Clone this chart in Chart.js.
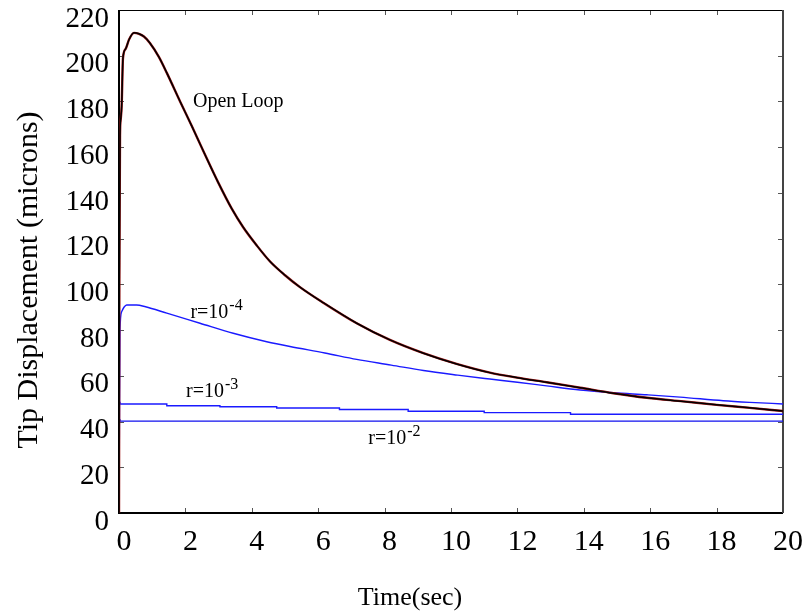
<!DOCTYPE html>
<html>
<head>
<meta charset="utf-8">
<script src="https://cdn.jsdelivr.net/npm/chart.js@4/dist/chart.umd.min.js"></script>
<style>
html,body{margin:0;padding:0;background:#fff;}
#c{display:block;}
</style>
</head>
<body>
<canvas id="c" width="806" height="615"></canvas>
<script>
// ---- data ----
const xTitle = "Time(sec)";
const yTitle = "Tip Displacement (microns)";
const xTicks = [0, 2, 4, 6, 8, 10, 12, 14, 16, 18, 20];
const yTicks = [0, 20, 40, 60, 80, 100, 120, 140, 160, 180, 200, 220];

const openLoopT = [0, 0.01, 0.03, 0.05, 0.08, 0.12, 0.2, 0.3, 0.45, 0.6, 0.75, 0.93, 1.2, 1.44, 1.84, 2.2, 2.55, 2.99, 3.4, 3.74, 4.15, 4.55, 5.0, 5.45, 6.15, 7.16, 8.16, 9.17, 10.17, 11.17, 12.0, 12.88, 13.89, 14.89, 15.9, 17.0, 18.0, 19.0, 20.0];
const openLoopV = [0, 100, 165, 172, 178, 199, 203, 207, 210, 209.6, 208.4, 205.6, 199.5, 192.5, 180, 169, 158, 144.5, 133, 125, 117, 110, 104, 98.8, 92, 83, 75.7, 69.9, 65.2, 61.4, 59.2, 57.2, 54.8, 52.4, 50.4, 48.8, 47.3, 46.0, 44.6];

const r4T = [0, 0.03, 0.08, 0.15, 0.23, 0.53, 0.8, 1.44, 2.44, 3.44, 4.45, 5.15, 6.2, 7.16, 8.2, 9.17, 10.2, 11.17, 12.0, 12.88, 13.89, 14.89, 15.9, 16.9, 18.2, 19.0, 20.0];
const r4V = [0, 80, 88, 90, 91, 91, 90.2, 87.4, 83, 78.6, 74.9, 72.8, 70, 67.2, 64.7, 62.3, 60.3, 58.6, 57.2, 55.6, 53.8, 52.6, 51.7, 50.7, 49.1, 48.4, 47.7];

const r3T = [0, 0.03, 1.44, 3.04, 4.75, 6.64, 8.71, 11.0, 13.6, 16.5, 20.0];
const r3V = [0, 48.4, 47.7, 46.9, 46.5, 45.9, 45.3, 44.5, 43.9, 43.2, 43.2];

const r2T = [0, 0.03, 2.0, 20.0];
const r2V = [0, 40.7, 40.2, 40.2];

const curveLabels = [
  {text: "Open Loop", sup: "", t: 2.23, v: 177.5},
  {text: "r=10", sup: "-4", t: 2.15, v: 85.1},
  {text: "r=10", sup: "-3", t: 2.02, v: 50.8},
  {text: "r=10", sup: "-2", t: 7.51, v: 30.0}
];

const pts = (T, V) => T.map((t, i) => ({x: t, y: V[i]}));
const SERIF = "'Liberation Serif', 'Times New Roman', serif";

const framePlugin = {
  id: 'frame',
  beforeDatasetsDraw(chart) {
    const {ctx, chartArea: a, scales: {x, y}} = chart;
    ctx.save();
    ctx.strokeStyle = '#555';
    ctx.lineWidth = 1;
    ctx.beginPath();
    xTicks.forEach(v => {
      const px = Math.round(x.getPixelForValue(v)) + 0.5;
      ctx.moveTo(px, a.bottom); ctx.lineTo(px, a.bottom - 5);
      ctx.moveTo(px, a.top); ctx.lineTo(px, a.top + 5);
    });
    yTicks.forEach(v => {
      const py = Math.round(y.getPixelForValue(v)) + 0.5;
      ctx.moveTo(a.left, py); ctx.lineTo(a.left + 5, py);
      ctx.moveTo(a.right, py); ctx.lineTo(a.right - 5, py);
    });
    ctx.stroke();
    ctx.strokeStyle = '#000';
    ctx.lineWidth = 2;
    ctx.beginPath();
    ctx.moveTo(a.left, a.top); ctx.lineTo(a.left, a.bottom); ctx.lineTo(a.right, a.bottom);
    ctx.stroke();
    ctx.lineWidth = 1.2;
    ctx.beginPath();
    ctx.moveTo(a.left, a.top + 0.5); ctx.lineTo(a.right, a.top + 0.5);
    ctx.stroke();
    ctx.strokeStyle = '#444';
    ctx.lineWidth = 2;
    ctx.beginPath();
    ctx.moveTo(a.right, a.top); ctx.lineTo(a.right, a.bottom);
    ctx.stroke();
    ctx.restore();
  },
  afterDraw(chart) {
    const {ctx, scales: {x, y}} = chart;
    ctx.save();
    ctx.fillStyle = '#000';
    ctx.textAlign = 'center';
    ctx.textBaseline = 'middle';
    ctx.font = "26px " + SERIF;
    ctx.fillText(xTitle, 410, 598);
    ctx.save();
    ctx.translate(29, 280);
    ctx.rotate(-Math.PI / 2);
    ctx.font = "30px " + SERIF;
    ctx.fillText(yTitle, 0, 0);
    ctx.restore();
    ctx.textAlign = 'left';
    ctx.textBaseline = 'alphabetic';
    curveLabels.forEach(l => {
      const px = x.getPixelForValue(l.t);
      const py = y.getPixelForValue(l.v);
      ctx.font = "20px " + SERIF;
      ctx.fillText(l.text, px, py);
      if (l.sup) {
        const w = ctx.measureText(l.text).width;
        ctx.font = "16px " + SERIF;
        ctx.fillText(l.sup, px + w + 1, py - 8);
      }
    });
    ctx.restore();
  }
};

new Chart(document.getElementById('c'), {
  type: 'line',
  data: {
    datasets: [
      {data: pts(openLoopT, openLoopV), borderColor: '#000000', borderWidth: 1.5, pointRadius: 0, cubicInterpolationMode: 'monotone', order: 0},
      {data: pts(openLoopT, openLoopV), borderColor: '#a01818', borderWidth: 2.4, pointRadius: 0, cubicInterpolationMode: 'monotone', order: 1},
      {data: pts(r4T, r4V), borderColor: '#1a1aff', borderWidth: 1.4, pointRadius: 0, cubicInterpolationMode: 'monotone', order: 2},
      {data: pts(r3T, r3V), borderColor: '#1a1aff', borderWidth: 1.4, pointRadius: 0, stepped: 'after', order: 3},
      {data: pts(r2T, r2V), borderColor: '#1010ee', borderWidth: 1.4, pointRadius: 0, stepped: 'after', order: 4}
    ]
  },
  options: {
    responsive: false,
    animation: false,
    devicePixelRatio: 1,
    layout: {padding: {top: 10, right: 23, left: 0, bottom: 0}},
    plugins: {legend: {display: false}, tooltip: {enabled: false}},
    scales: {
      x: {
        type: 'linear', min: 0, max: 20,
        afterBuildTicks: s => { s.ticks = xTicks.map(v => ({value: v})); },
        ticks: {color: '#000', font: {family: SERIF, size: 30}, padding: 11, labelOffset: 5, maxRotation: 0, autoSkip: false},
        grid: {display: false, drawTicks: false},
        border: {display: false},
        afterFit: s => { s.height = 102; s.paddingLeft = 0; s.paddingRight = 0; }
      },
      y: {
        type: 'linear', min: 0, max: 220,
        afterBuildTicks: s => { s.ticks = yTicks.map(v => ({value: v})); },
        ticks: {color: '#000', font: {family: SERIF, size: 29}, padding: 10, labelOffset: 9, autoSkip: false},
        grid: {display: false, drawTicks: false},
        border: {display: false},
        afterFit: s => { s.width = 119; s.paddingTop = 0; s.paddingBottom = 0; }
      }
    }
  },
  plugins: [framePlugin]
});
</script>
</body>
</html>
